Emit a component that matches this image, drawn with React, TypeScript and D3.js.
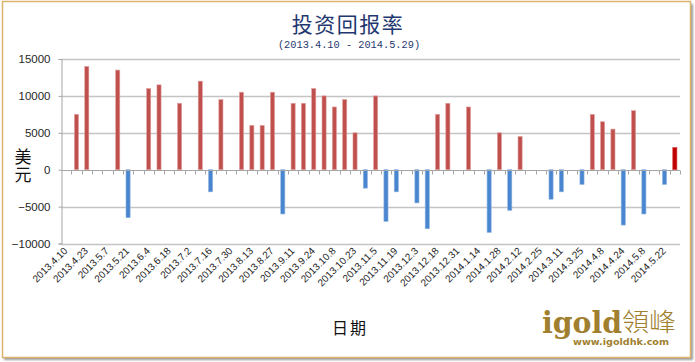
import React, { useRef, useEffect } from 'react';
import * as d3 from 'd3';

// weekly dates, every other one is shown on the axis
const dates = [
  '2013.4.10', '2013.4.16', '2013.4.23', '2013.4.30', '2013.5.7', '2013.5.14', '2013.5.21', '2013.5.28',
  '2013.6.4', '2013.6.11', '2013.6.18', '2013.6.25', '2013.7.2', '2013.7.9', '2013.7.16', '2013.7.23',
  '2013.7.30', '2013.8.6', '2013.8.13', '2013.8.20', '2013.8.27', '2013.9.3', '2013.9.11', '2013.9.17',
  '2013.9.24', '2013.10.1', '2013.10.8', '2013.10.15', '2013.10.23', '2013.10.29', '2013.11.5', '2013.11.12',
  '2013.11.19', '2013.11.26', '2013.12.3', '2013.12.10', '2013.12.18', '2013.12.24', '2013.12.31', '2014.1.7',
  '2014.1.14', '2014.1.21', '2014.1.28', '2014.2.5', '2014.2.12', '2014.2.18', '2014.2.25', '2014.3.4',
  '2014.3.11', '2014.3.18', '2014.3.25', '2014.4.1', '2014.4.8', '2014.4.15', '2014.4.24', '2014.4.30',
  '2014.5.8', '2014.5.15', '2014.5.22', '2014.5.29',
];

// 美元, 0 = no bar that week
const returns = [
  0, 7500, 14000, 0, 0, 13500, -6500, 0,
  11000, 11500, 0, 9000, 0, 12000, -3000, 9500,
  0, 10500, 6000, 6000, 10500, -6000, 9000, 9000,
  11000, 10000, 8500, 9500, 5000, -2500, 10000, -7000,
  -3000, 0, -4500, -8000, 7500, 9000, 0, 8500,
  0, -8500, 5000, -5500, 4500, 0, 0, -4000,
  -3000, 0, -2000, 7500, 6500, 5500, -7500, 8000,
  -6000, 0, -2000, 3000,
];

const yTicks = [-10000, -5000, 0, 5000, 10000, 15000];

const W = 695;
const H = 362;
const GOLD = '#A0802F';

export default function App() {
  const ref = useRef<SVGSVGElement>(null);

  useEffect(() => {
    if (!ref.current) return;
    const svg = d3.select(ref.current);
    svg.selectAll('*').remove();

    const left = 61, right = 680, top = 59, bottom = 243.5;

    // frame with shadow
    const defs = svg.append('defs');
    defs.append('filter').attr('id', 'sh')
      .append('feGaussianBlur').attr('stdDeviation', 1.2);
    svg.append('rect').attr('x', 4).attr('y', 4).attr('width', W - 6).attr('height', H - 6)
      .attr('fill', '#9a9a9a').attr('filter', 'url(#sh)');
    svg.append('rect').attr('x', 2.5).attr('y', 1.5).attr('width', W - 7).attr('height', H - 6)
      .attr('fill', '#fff').attr('stroke', '#DDB56A').attr('stroke-width', 1.5);

    const x = d3.scaleBand().domain(dates).range([left, right]).padding(0);
    const y = d3.scaleLinear().domain([-10000, 15000]).range([bottom, top]);

    // gridlines
    svg.append('g').selectAll('line')
      .data(yTicks.filter(t => t !== 0))
      .enter().append('line')
      .attr('x1', left).attr('x2', right)
      .attr('y1', d => Math.round(y(d)) + 0.5).attr('y2', d => Math.round(y(d)) + 0.5)
      .attr('stroke', '#C4C4C4').attr('stroke-width', 1.3);

    // y axis
    const ya = svg.append('g').attr('transform', `translate(${left + 0.5},0)`)
      .call(d3.axisLeft(y).tickValues(yTicks).tickSize(3).tickPadding(8).tickFormat(d3.format('d')));
    ya.select('.domain').attr('stroke', '#A6A6A6');
    ya.selectAll('.tick line').attr('stroke', '#A6A6A6');
    ya.selectAll('.tick text').attr('font-family', '"Liberation Sans", Arial, sans-serif')
      .attr('font-size', 11.5).attr('fill', '#262626');

    // bars
    const bw = x.bandwidth() * 0.4;
    svg.append('g').selectAll('rect')
      .data(returns.map((v, i) => ({ d: dates[i], v, last: i === dates.length - 1 })).filter(p => p.v !== 0))
      .enter().append('rect')
      .attr('x', p => x(p.d)! + (x.bandwidth() - bw) / 2)
      .attr('width', bw)
      .attr('y', p => y(Math.max(0, p.v)))
      .attr('height', p => Math.abs(y(p.v) - y(0)))
      .attr('fill', p => p.last ? '#C00000' : p.v > 0 ? '#C0504D' : '#4A86CF')
      .attr('stroke', p => p.last ? '#D84040' : p.v > 0 ? '#E0A09E' : '#8DB4E2')
      .attr('stroke-width', 0.6);

    // category axis at zero
    const y0 = Math.round(y(0)) + 0.5;
    const xa = svg.append('g').attr('transform', `translate(0,${y0})`);
    xa.append('line').attr('x1', left).attr('x2', right).attr('stroke', '#A6A6A6');
    xa.selectAll('line.t')
      .data(dates)
      .enter().append('line').attr('class', 't')
      .attr('x1', d => Math.round(x(d)! + x.bandwidth()) + 0.5)
      .attr('x2', d => Math.round(x(d)! + x.bandwidth()) + 0.5)
      .attr('y1', 0).attr('y2', 4)
      .attr('stroke', '#A6A6A6');

    // date labels at the bottom
    svg.append('g').selectAll('text')
      .data(dates.filter((_, i) => i % 2 === 0))
      .enter().append('text')
      .attr('transform', d => `translate(${x(d)! + x.bandwidth() / 2 + 2},${bottom + 8}) rotate(-45)`)
      .attr('text-anchor', 'end')
      .attr('font-family', '"Liberation Sans", Arial, sans-serif')
      .attr('font-size', 10)
      .attr('fill', '#262626')
      .text(d => d);

    // titles
    svg.append('text').attr('x', 348).attr('y', 32).attr('text-anchor', 'middle')
      .attr('font-family', '"Noto Sans CJK SC", sans-serif').attr('font-size', 21)
      .attr('letter-spacing', 1.5).attr('fill', '#1F3870')
      .text('投资回报率');
    svg.append('text').attr('x', 349).attr('y', 47.5).attr('text-anchor', 'middle')
      .attr('font-family', '"Liberation Mono", monospace').attr('font-size', 10.3)
      .attr('fill', '#1F3870')
      .text('(2013.4.10 - 2014.5.29)');

    // y title, stacked vertically
    svg.append('text').attr('x', 23).attr('y', 148)
      .attr('writing-mode', 'vertical-rl')
      .attr('font-family', '"Noto Sans CJK SC", sans-serif')
      .attr('font-size', 17).attr('letter-spacing', 1).attr('fill', '#111')
      .text('美元');

    // x title
    svg.append('text').attr('x', 332).attr('y', 334)
      .attr('font-family', '"Noto Sans CJK SC", sans-serif').attr('font-size', 16)
      .attr('letter-spacing', 2).attr('fill', '#111')
      .text('日期');

    // logo
    svg.append('text').attr('x', 542).attr('y', 333)
      .attr('font-family', '"DejaVu Serif", "Liberation Serif", serif').attr('font-weight', 'bold')
      .attr('font-size', 30).attr('fill', GOLD)
      .attr('textLength', 80).attr('lengthAdjust', 'spacingAndGlyphs')
      .text('igold');
    svg.append('text').attr('x', 622).attr('y', 331)
      .attr('font-family', '"Noto Sans CJK TC", sans-serif').attr('font-weight', 300)
      .attr('font-size', 25).attr('fill', GOLD)
      .attr('textLength', 54).attr('lengthAdjust', 'spacingAndGlyphs')
      .text('領峰');
    svg.append('text').attr('x', 573).attr('y', 345)
      .attr('font-family', '"DejaVu Sans", sans-serif').attr('font-weight', 'bold')
      .attr('font-size', 9.5).attr('fill', GOLD)
      .attr('textLength', 96).attr('lengthAdjust', 'spacingAndGlyphs')
      .text('www.igoldhk.com');
  }, []);

  return (
    <svg ref={ref} width={W} height={H}
      style={{ position: 'absolute', left: 0, top: 0, background: '#fff' }} />
  );
}
